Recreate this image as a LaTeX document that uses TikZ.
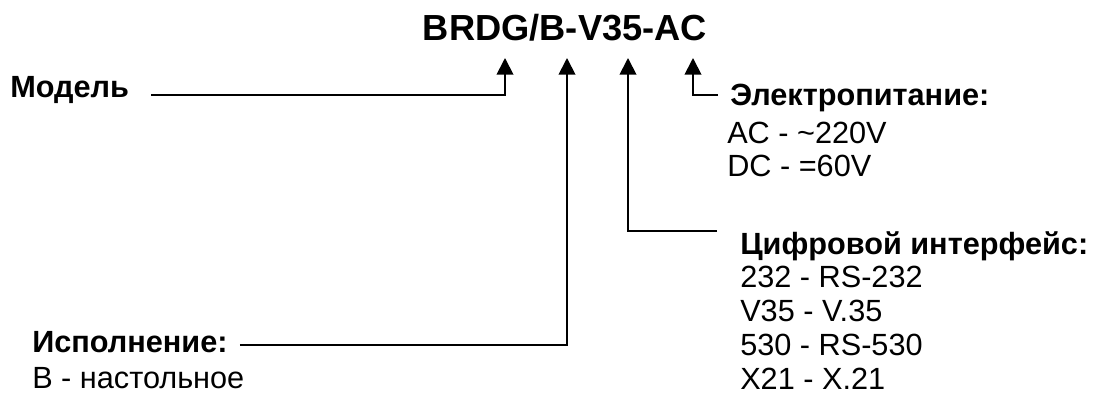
\documentclass[tikz,border=0pt]{standalone}
\usepackage{fontspec}
\setmainfont{Liberation Sans}
\usetikzlibrary{arrows.meta}
\tikzset{
  title/.style={inner sep=0pt, anchor=base, font=\fontsize{27.2}{32}\selectfont\bfseries},
  head/.style={inner sep=0pt, anchor=base west, font=\fontsize{23}{27}\selectfont\bfseries},
  item/.style={inner sep=0pt, anchor=base west, font=\fontsize{23}{27}\selectfont},
  pointer/.style={line width=1.4pt, -{Triangle[length=12.5pt,width=12.5pt]}},
}
\begin{document}
\begin{tikzpicture}[x=0.75pt,y=-0.75pt]
\useasboundingbox (0,0) rectangle (1113,408);
\node[title] (code) at (565,40) {BRDG/B-V35-AC};
\coordinate (tipM) at (505,58);
\coordinate (tipB) at (567,58);
\coordinate (tipV) at (628,58);
\coordinate (tipA) at (693,58);
% labels
\node[head] (model) at (10,97) {Модель};
\node[head] (power) at (730,105) {Электропитание:};
\node[item] (power1) at (727,143) {AC - \string~220V};
\node[item] (power2) at (727,176) {DC - =60V};
\node[head] (iface) at (740,254) {Цифровой интерфейс:};
\node[item] (iface1) at (740,287) {232 - RS-232};
\node[item] (iface2) at (740,321) {V35 - V.35};
\node[item] (iface3) at (740,355) {530 - RS-530};
\node[item] (iface4) at (740,389) {X21 - X.21};
\node[head] (exec) at (32,352) {Исполнение:};
\node[item] (exec1) at (32,388) {В - настольное};
% connectors
\draw[pointer] ([shift={(22,-2)}]model.base east) -| (tipM);
\draw[pointer] ([shift={(-12,-10)}]power.base west) -| (tipA);
\draw[pointer] ([shift={(-23,-23)}]iface.base west) -| (tipV);
\draw[pointer] ([shift={(12,-7)}]exec.base east) -| (tipB);
\end{tikzpicture}
\end{document}
